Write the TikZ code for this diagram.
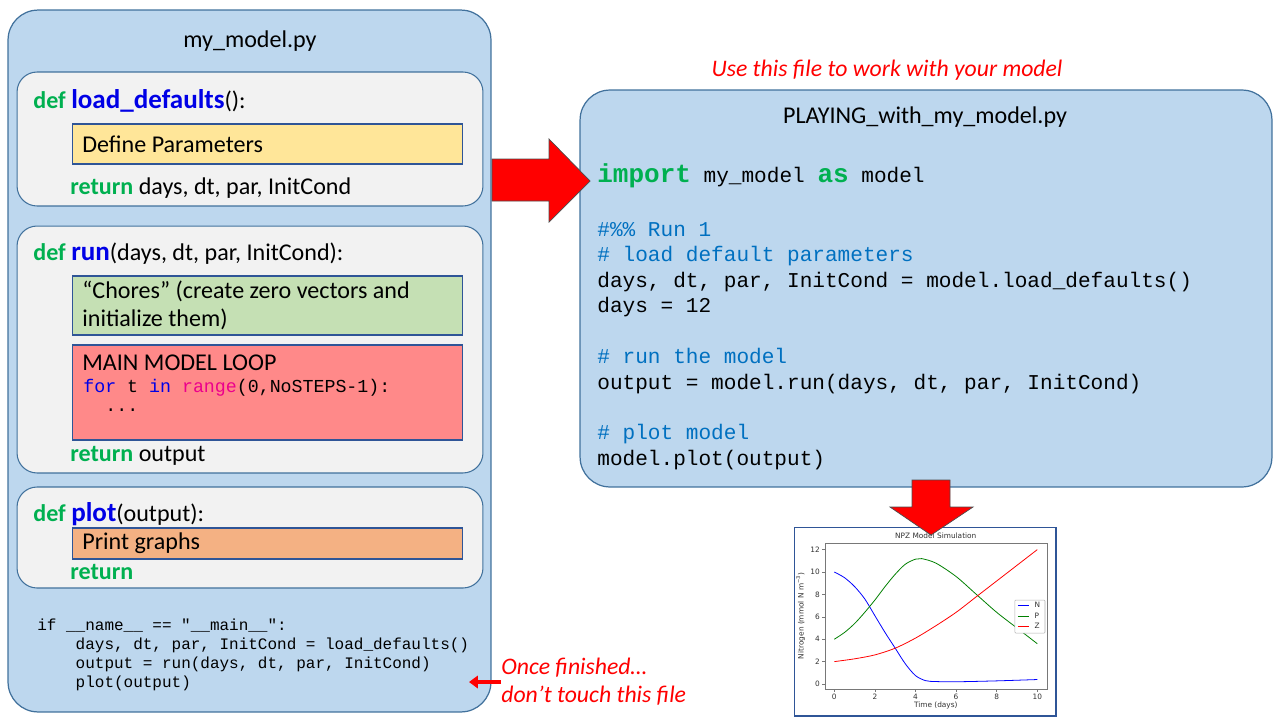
\documentclass[tikz,border=0pt]{standalone}
\usepackage{fontspec}
\setmainfont{Carlito}
\setmonofont{Liberation Mono}
\newfontfamily\plotfont{DejaVu Sans}
\usepackage{tikz}
\usetikzlibrary{positioning,calc,arrows.meta}
\definecolor{PanelBlue}{RGB}{189,215,238}
\definecolor{PanelEdge}{RGB}{65,113,156}
\definecolor{BlockGray}{RGB}{242,242,242}
\definecolor{BoxEdge}{RGB}{47,85,151}
\definecolor{ParamYellow}{RGB}{255,230,153}
\definecolor{ChoreGreen}{RGB}{197,224,180}
\definecolor{LoopRed}{RGB}{255,137,137}
\definecolor{GraphOrange}{RGB}{244,177,131}
\definecolor{KeyGreen}{RGB}{0,176,80}
\definecolor{FuncBlue}{RGB}{0,0,230}
\definecolor{CommentBlue}{RGB}{0,112,192}
\definecolor{AxisGray}{RGB}{120,120,120}
\definecolor{CurveN}{RGB}{0,0,255}
\definecolor{CurveP}{RGB}{0,128,0}
\definecolor{CurveZ}{RGB}{255,0,0}
\newcommand{\kw}[1]{\textcolor{KeyGreen}{\textbf{#1}}}
\newcommand{\fn}[1]{\textcolor{FuncBlue}{\fontsize{15.4}{16}\selectfont\textbf{#1}}}
\newcommand{\pykw}[1]{\textcolor{KeyGreen}{\fontsize{14.8}{16}\selectfont\textbf{#1}}}
\newcommand{\ind}{\hphantom{xxxx}}

\begin{document}
\begin{tikzpicture}[
    x=0.02cm, y=-0.02cm,
    font=\fontsize{13.7}{16}\selectfont,
    panel/.style={
        draw=PanelEdge,
        line width=0.7pt,
        rounded corners=0.6cm,
        fill=PanelBlue,
        outer sep=0pt
    },
    block/.style={
        draw=PanelEdge,
        line width=0.6pt,
        rounded corners=0.4cm,
        fill=BlockGray,
        minimum width=9.32cm,
        outer sep=0pt
    },
    stepbox/.style={
        draw=BoxEdge,
        line width=0.6pt,
        minimum width=7.82cm,
        outer sep=0pt
    },
    txt/.style={
        anchor=west,
        inner sep=0pt,
        align=left
    },
    code/.style={
        anchor=west,
        inner sep=0pt,
        align=left,
        font=\ttfamily\fontsize{12}{14.5}\selectfont
    },
    note/.style={
        anchor=west,
        inner sep=0pt,
        align=left,
        text=red,
        font=\itshape\fontsize{13.5}{16}\selectfont
    },
    bigarrow/.style={
        fill=red,
        draw=black!70,
        line width=0.4pt
    },
    curve/.style={
        line width=0.45pt
    },
    ticklab/.style={
        inner sep=0pt,
        font=\plotfont\fontsize{4.2}{5}\selectfont,
        text=black!80
    }
]
\useasboundingbox (0,0) rectangle (1280,720);

% =========================
% my_model.py
% =========================
\node[panel, minimum width=9.66cm, minimum height=14.04cm] (mymodel) at (249.5,361) {};
\node (mytitle) at (250,41) {my\_model.py};

\node[block, minimum height=2.68cm] (defaultsblock) at (250,139) {};
\node[txt] (defaultsdef) at (33,101) {\kw{def} \fn{load\_defaults}():};
\node[stepbox, fill=ParamYellow, minimum height=0.8cm] (paramsbox) at (267.5,144) {};
\node[txt, right=0.2cm of paramsbox.west] (paramstext) {Define Parameters};
\node[txt] (defaultsret) at (70,188) {\kw{return} days, dt, par, InitCond};

\node[block, minimum height=4.94cm] (runblock) at (250,349.5) {};
\node[txt] (rundef) at (33,254) {\kw{def} \fn{run}(days, dt, par, InitCond):};
\node[stepbox, fill=ChoreGreen, minimum height=1.18cm] (choresbox) at (267.5,305.5) {};
\node[txt, right=0.2cm of choresbox.west] (chorestext)
    {“Chores” (create zero vectors and\\initialize them)};
\node[stepbox, fill=LoopRed, minimum height=1.9cm] (loopbox) at (267.5,392.5) {};
\node[txt] (looptitle) at (82,363) {MAIN MODEL LOOP};
\node[code, font=\ttfamily\fontsize{10.4}{12}\selectfont] (loopline) at (83,388)
    {\textcolor{FuncBlue}{for} t \textcolor{FuncBlue}{in} \textcolor{magenta}{range}(0,NoSTEPS-1):};
\node[code, font=\ttfamily\fontsize{10.4}{12}\selectfont] (loopdots) at (105,410) {...};
\node[txt] (runret) at (70,456) {\kw{return} output};

\node[block, minimum height=2.02cm] (plotblock) at (250,537.5) {};
\node[txt] (plotdef) at (33,514) {\kw{def} \fn{plot}(output):};
\node[stepbox, fill=GraphOrange, minimum height=0.62cm] (graphsbox) at (267.5,543.5) {};
\node[txt, right=0.2cm of graphsbox.west] (graphstext) {Print graphs};
\node[txt] (plotret) at (70,572) {\kw{return}};

\node[code, font=\ttfamily\fontsize{9.1}{10.9}\selectfont] (mainblock) at (37,655)
    {if \_\_name\_\_ == "\_\_main\_\_":\\
     \ind days, dt, par, InitCond = load\_defaults()\\
     \ind output = run(days, dt, par, InitCond)\\
     \ind plot(output)};

\node[note] (donttouch) at (501,682) {Once finished…\\don’t touch this file};
\draw[-{Triangle[length=5pt,width=7pt]}, red, line width=2.4pt] (donttouch.west) -- ++(-32,0);

% =========================
% PLAYING_with_my_model.py
% =========================
\node[note, anchor=center] (usenote) at (887,70) {Use this file to work with your model};
\node[panel, minimum width=13.84cm, minimum height=7.94cm] (playfile) at (926,288.5) {};
\node (playtitle) at (925,117) {PLAYING\_with\_my\_model.py};

\node[code] (importline) at (597,176) {\pykw{import} my\_model \pykw{as} model};
\node[code] (playcode) at (597,346)
    {\textcolor{CommentBlue}{\#\%\% Run 1}\\
     \textcolor{CommentBlue}{\# load default parameters}\\
     days, dt, par, InitCond = model.load\_defaults()\\
     days = 12\\
     \mbox{}\\
     \textcolor{CommentBlue}{\# run the model}\\
     output = model.run(days, dt, par, InitCond)\\
     \mbox{}\\
     \textcolor{CommentBlue}{\# plot model}\\
     model.plot(output)};

% big block arrow into the playing file
\draw[bigarrow] (492,159) -- (549,159) -- (549,139) -- (590,181)
    -- (549,222) -- (549,201) -- (492,201) -- cycle;

% =========================
% NPZ plot
% =========================
\node[draw=BoxEdge, line width=0.6pt, fill=white, minimum width=5.24cm,
      minimum height=3.78cm, outer sep=0pt] (npzplot) at (925,621.5) {};
\begin{scope}[shift={(834.3,684)}]
\begin{scope}[x=0.406cm, y=0.224cm]
\draw[AxisGray, line width=0.4pt] (-0.46,-0.45) rectangle (10.52,12.59);
\foreach \t in {0,2,...,10} {
    \draw[AxisGray, line width=0.3pt] (\t,-0.45) -- (\t,-0.75);
    \node[ticklab] at (\t,-1.1) {\t};
}
\foreach \v in {0,2,...,12} {
    \draw[AxisGray, line width=0.3pt] (-0.46,\v) -- (-0.6,\v);
    \node[ticklab, anchor=east] at (-0.7,\v) {\v};
}
\node[ticklab] (plottitle) at (5,13.25) {NPZ Model Simulation};
\node[ticklab] (xlabel) at (5,-1.95) {Time (days)};
\node[ticklab, rotate=90] (ylabel) at (-1.65,6.1) {Nitrogen (mmol N m\textsuperscript{−3})};
\draw[curve, CurveN] plot[smooth] coordinates {(0,10) (0.5,9.5) (1,8.7) (1.5,7.6)
    (2,6.1) (2.5,4.6) (3,3.2) (3.5,1.8) (4,0.75) (4.5,0.3) (5,0.22) (6,0.2) (8,0.28) (10,0.4)};
\draw[curve, CurveP] plot[smooth] coordinates {(0,4) (0.5,4.6) (1,5.4)
    (1.5,6.4) (2,7.5) (2.5,8.7) (3,9.8) (3.5,10.7) (4,11.15) (4.3,11.2) (5,10.8) (6,9.6)
    (7,8) (8,6.4) (9,5) (10,3.6)};
\draw[curve, CurveZ] plot[smooth] coordinates {(0,2) (1,2.25) (2,2.6) (3,3.2)
    (4,4.1) (5,5.2) (6,6.4) (7,7.8) (8,9.2) (9,10.6) (10,12)};
% legend
\draw[black!30, fill=white, line width=0.3pt, rounded corners=0.5pt] (8.9,7.5) rectangle (10.38,4.55);
\draw[curve, CurveN] (9.05,7.05) -- (9.6,7.05);
\draw[curve, CurveP] (9.05,6.07) -- (9.6,6.07);
\draw[curve, CurveZ] (9.05,5.18) -- (9.6,5.18);
\node[ticklab, anchor=west] (legN) at (9.85,7.05) {N};
\node[ticklab, anchor=west] (legP) at (9.85,6.07) {P};
\node[ticklab, anchor=west] (legZ) at (9.85,5.18) {Z};
\end{scope}
\end{scope}

% down arrow onto the plot
\draw[bigarrow] (912,480) -- (950,480) -- (950,507) -- (973,507) -- (931,535)
    -- (890,507) -- (912,507) -- cycle;

\end{tikzpicture}
\end{document}
